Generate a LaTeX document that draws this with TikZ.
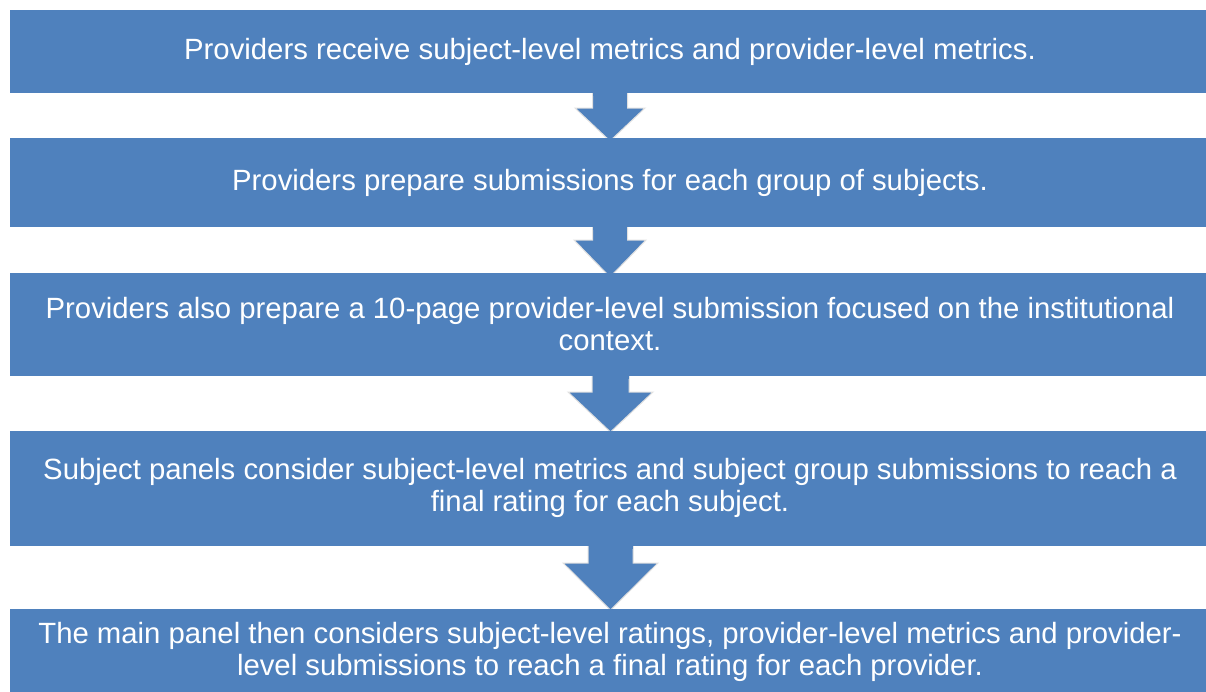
\documentclass[tikz,border=0pt]{standalone}
\usepackage{fontspec}
\setmainfont{Liberation Sans}
\definecolor{boxblue}{HTML}{4F81BD}
\begin{document}
\begin{tikzpicture}[x=1pt,y=-1pt,
  stepbox/.style={fill=boxblue, draw=none, inner sep=0pt, text=white,
    align=center, font=\fontsize{29.3}{32}\selectfont},
  blockarrow/.style={fill=boxblue, draw=white!88!black, line width=1pt, line join=miter}]
\useasboundingbox (0,0) rectangle (1206,691);
\fill[white] (0,0) rectangle (1206,691);
% arrows (drawn first, boxes on top)
\draw[blockarrow] (592.5,90) -- (592.5,108) -- (575,108) -- (610,141) -- (645,108) -- (627.5,108) -- (627.5,90) -- cycle;
\draw[blockarrow] (592.5,224) -- (592.5,240) -- (574,240) -- (610,277) -- (646,240) -- (627.5,240) -- (627.5,224) -- cycle;
\draw[blockarrow] (592,373) -- (592,392) -- (568,392) -- (610.5,432) -- (653,392) -- (629,392) -- (629,373) -- cycle;
\draw[blockarrow] (588,543) -- (588,563) -- (563,563) -- (610.5,610) -- (658,563) -- (633,563) -- (633,543) -- cycle;
% boxes
\fill[boxblue] (9.5,10) rectangle (1210,93);
\fill[boxblue] (9.5,138) rectangle (1210,227);
\fill[boxblue] (9.5,273) rectangle (1210,376);
\fill[boxblue] (9.5,431) rectangle (1210,546);
\fill[boxblue] (9.5,609) rectangle (1210,700);
% re-draw shafts over box bottoms to merge
\fill[boxblue] (593,92) rectangle (627,96);
\fill[boxblue] (593,226) rectangle (627,230);
\fill[boxblue] (592.5,375) rectangle (628.5,379);
\fill[boxblue] (588.5,545) rectangle (632.5,549);
% texts
\node[stepbox] (b1) at (610,51.5) {Providers receive subject-level metrics and provider-level metrics.};
\node[stepbox] (b2) at (610,182.5) {Providers prepare submissions for each group of subjects.};
\node[stepbox] (b3) at (610,324.5) {Providers also prepare a 10-page provider-level submission focused on the institutional\\context.};
\node[stepbox] (b4) at (610,487.5) {Subject panels consider subject-level metrics and subject group submissions to reach a\\final rating for each subject.};
\node[stepbox] (b5) at (610,652) {The main panel then considers subject-level ratings, provider-level metrics and provider-\\level submissions to reach a final rating for each provider.};
\end{tikzpicture}
\end{document}
